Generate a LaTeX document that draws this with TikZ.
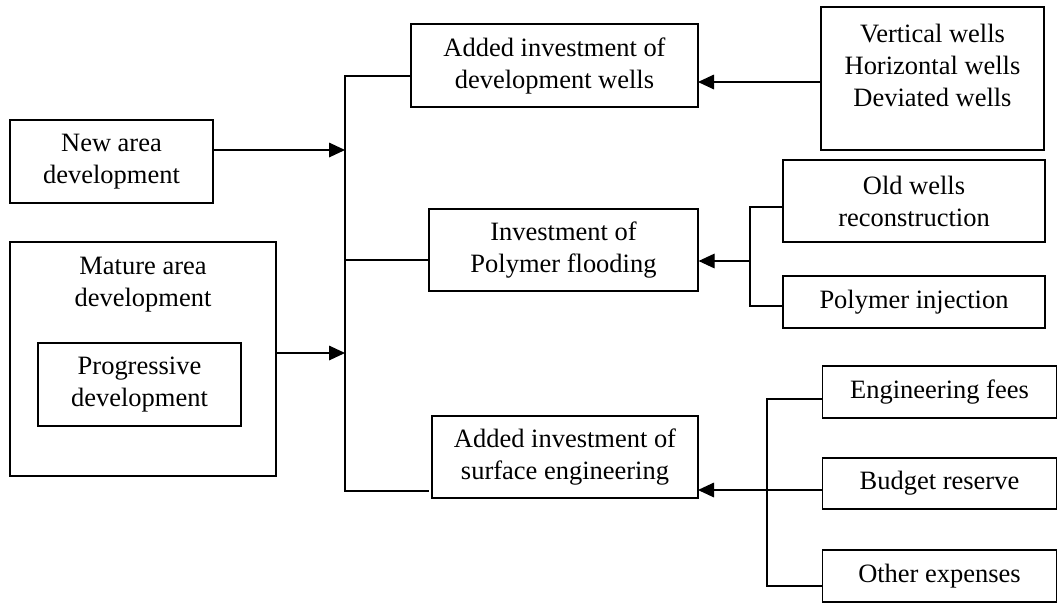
\documentclass[tikz,border=0pt]{standalone}
\usepackage{fontspec}
\setmainfont{Liberation Serif}
\usetikzlibrary{arrows.meta}

\begin{document}
\begin{tikzpicture}[x=0.03cm, y=-0.03cm, line width=1pt,
    txt/.style={font=\fontsize{22.6}{27.3}\selectfont, align=center, inner sep=0pt},
    box/.style={txt, draw, minimum width=#1},
    arr/.style={-{Triangle[length=0.48cm, width=0.44cm]}}]
                \useasboundingbox (0,0) rectangle (1057,603);
                % left side
                \node[box=6.09cm, minimum height=2.49cm] (newarea) at (111.5,161.5) {New area\\development};
                \node[box=7.98cm, minimum height=7.02cm] (mature) at (143,359) {};
                \node[txt] (maturetxt) at (143,285) {Mature area\\development};
                \node[box=6.09cm, minimum height=2.49cm] (progressive) at (139.5,384.5) {Progressive\\development};
                % middle
                \node[box=8.61cm, minimum height=2.49cm] (wells) at (554.5,65.5) {Added investment of\\development wells};
                \node[box=8.07cm, minimum height=2.46cm] (polymer) at (563.5,250) {Investment of\\Polymer flooding};
                \node[box=7.98cm, minimum height=2.46cm] (surface) at (565,457) {Added investment of\\surface engineering};
                % right side
                \node[box=6.69cm, minimum height=4.29cm] (welltypes) at (932.5,78.5) {};
                \node[txt] (welltypestxt) at (932.5,65) {Vertical wells\\Horizontal wells\\Deviated wells};
                \node[box=7.86cm, minimum height=2.46cm] (oldwells) at (914,201) {Old wells\\reconstruction};
                \node[box=7.86cm, minimum height=1.56cm] (injection) at (914,302) {Polymer injection};
                \node[box=7.02cm, minimum height=1.56cm] (fees) at (939.5,392) {Engineering fees};
                \node[box=7.02cm, minimum height=1.53cm] (budget) at (939.5,483.5) {Budget reserve};
                \node[box=7.02cm, minimum height=1.56cm] (other) at (939.5,576) {Other expenses};
                % trunk
                \coordinate (trunktop) at (345,76);
                \coordinate (trunkbot) at (345,491);
                \coordinate (trunkmid) at (345,260);
                \coordinate (innew) at (345,150);
                \coordinate (inmature) at (345,353);
                \draw (trunktop -| wells.west) -- (trunktop) -- (trunkbot) -- ([xshift=-2pt]trunkbot -| surface.west);
                \draw (trunkmid) -- (trunkmid -| polymer.west);
                \draw[arr] (innew -| newarea.east) -- (innew);
                \draw[arr] (inmature -| mature.east) -- (inmature);
                % feeds into middle boxes
                \coordinate (inwells) at (698,82);
                \draw[arr] (inwells -| welltypes.west) -- (inwells);
                \coordinate (polyfork) at (750,261);
                \coordinate (polytop) at (750,207);
                \coordinate (polybot) at (750,306);
                \draw (polytop -| oldwells.west) -- (polytop) -- (polybot) -- (polybot -| injection.west);
                \draw[arr] (polyfork) -- (polyfork -| polymer.east);
                \coordinate (surftop) at (767,399);
                \coordinate (surfbot) at (767,586);
                \coordinate (insurf) at (698,490);
                \draw (surftop -| fees.west) -- (surftop) -- (surfbot) -- (surfbot -| other.west);
                \draw[arr] (insurf -| budget.west) -- (insurf);
            \end{tikzpicture}
\end{document}
